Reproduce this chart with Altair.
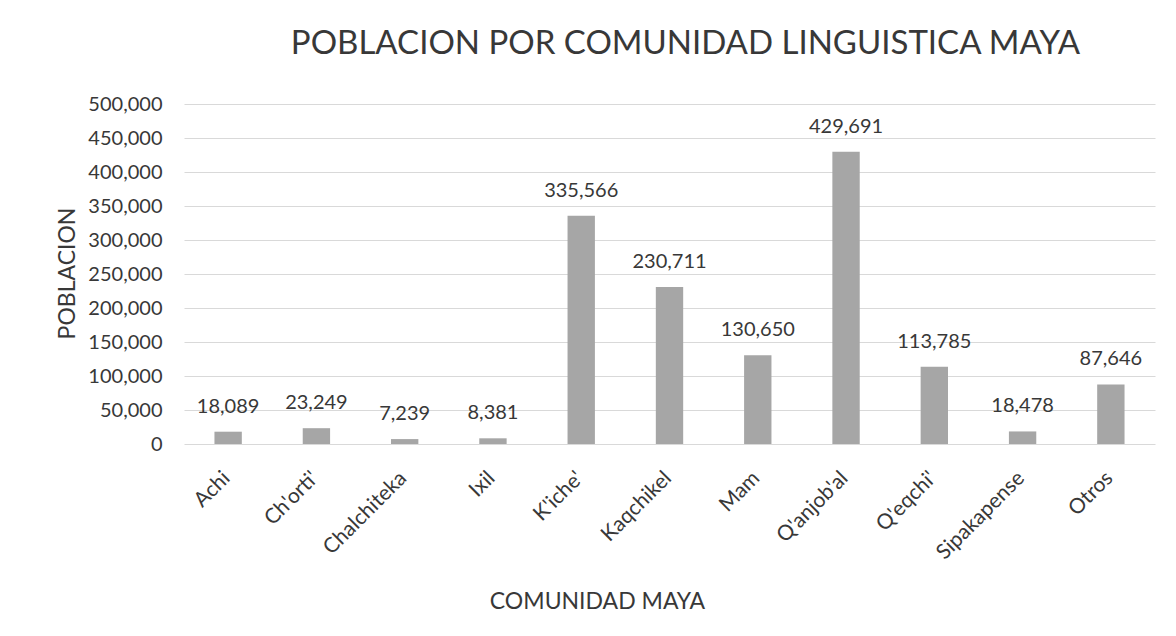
import altair as alt
import pandas as pd

categories = ["Achi", "Ch'orti'", "Chalchiteka", "Ixil", "K'iche'", "Kaqchikel",
              "Mam", "Q'anjob'al", "Q'eqchi'", "Sipakapense", "Otros"]
population = [18089, 23249, 7239, 8381, 335566, 230711, 130650, 429691, 113785, 18478, 87646]
y_ticks = [0, 50000, 100000, 150000, 200000, 250000, 300000, 350000, 400000, 450000, 500000]

df = pd.DataFrame({"comunidad": categories, "poblacion": population})

FONT = "Lato"
TXT = "#383838"

x = alt.X("comunidad:N", sort=categories,
          scale=alt.Scale(paddingInner=0.69, paddingOuter=0.345),
          axis=alt.Axis(title="COMUNIDAD MAYA", labelAngle=315, labelFontSize=21,
                        labelFont=FONT, labelColor=TXT, ticks=False, domain=False,
                        labelPadding=23, labelOffset=-9, titleFont=FONT, titleFontSize=23,
                        titleFontWeight="normal", titleColor=TXT,
                        titleX=413, titleY=157, titleBaseline="middle"))
y = alt.Y("poblacion:Q", scale=alt.Scale(domain=[0, 500000]),
          axis=alt.Axis(title="POBLACION", values=y_ticks,
                        format=",d", labelFontSize=20, labelFont=FONT, labelColor=TXT,
                        ticks=False, domain=False, labelPadding=22,
                        gridColor="#d9d9d9", gridWidth=1,
                        titleFont=FONT, titleFontSize=23, titleFontWeight="normal",
                        titleColor=TXT, titleX=-117, titleY=169, titleBaseline="middle"))

base = alt.Chart(df).encode(x=x, y=y)
bars = base.mark_bar(color="#a6a6a6")
labels = base.mark_text(baseline="middle", dy=-25, fontSize=20, font=FONT,
                        color=TXT).encode(text=alt.Text("poblacion:Q", format=",d"))

chart = (bars + labels).properties(
    width=971, height=340,
    background="white",
    title=alt.TitleParams("POBLACION POR COMUNIDAD LINGUISTICA MAYA", fontSize=33,
                          font=FONT, fontWeight="normal", color=TXT, dx=16, offset=33),
    autosize=alt.AutoSizeParams(type="none"),
    padding={"left": 176, "top": 96, "right": 13, "bottom": 180},
).configure_view(stroke=None)

chart.save("out.html", embed_options={"renderer": "svg", "actions": False})
